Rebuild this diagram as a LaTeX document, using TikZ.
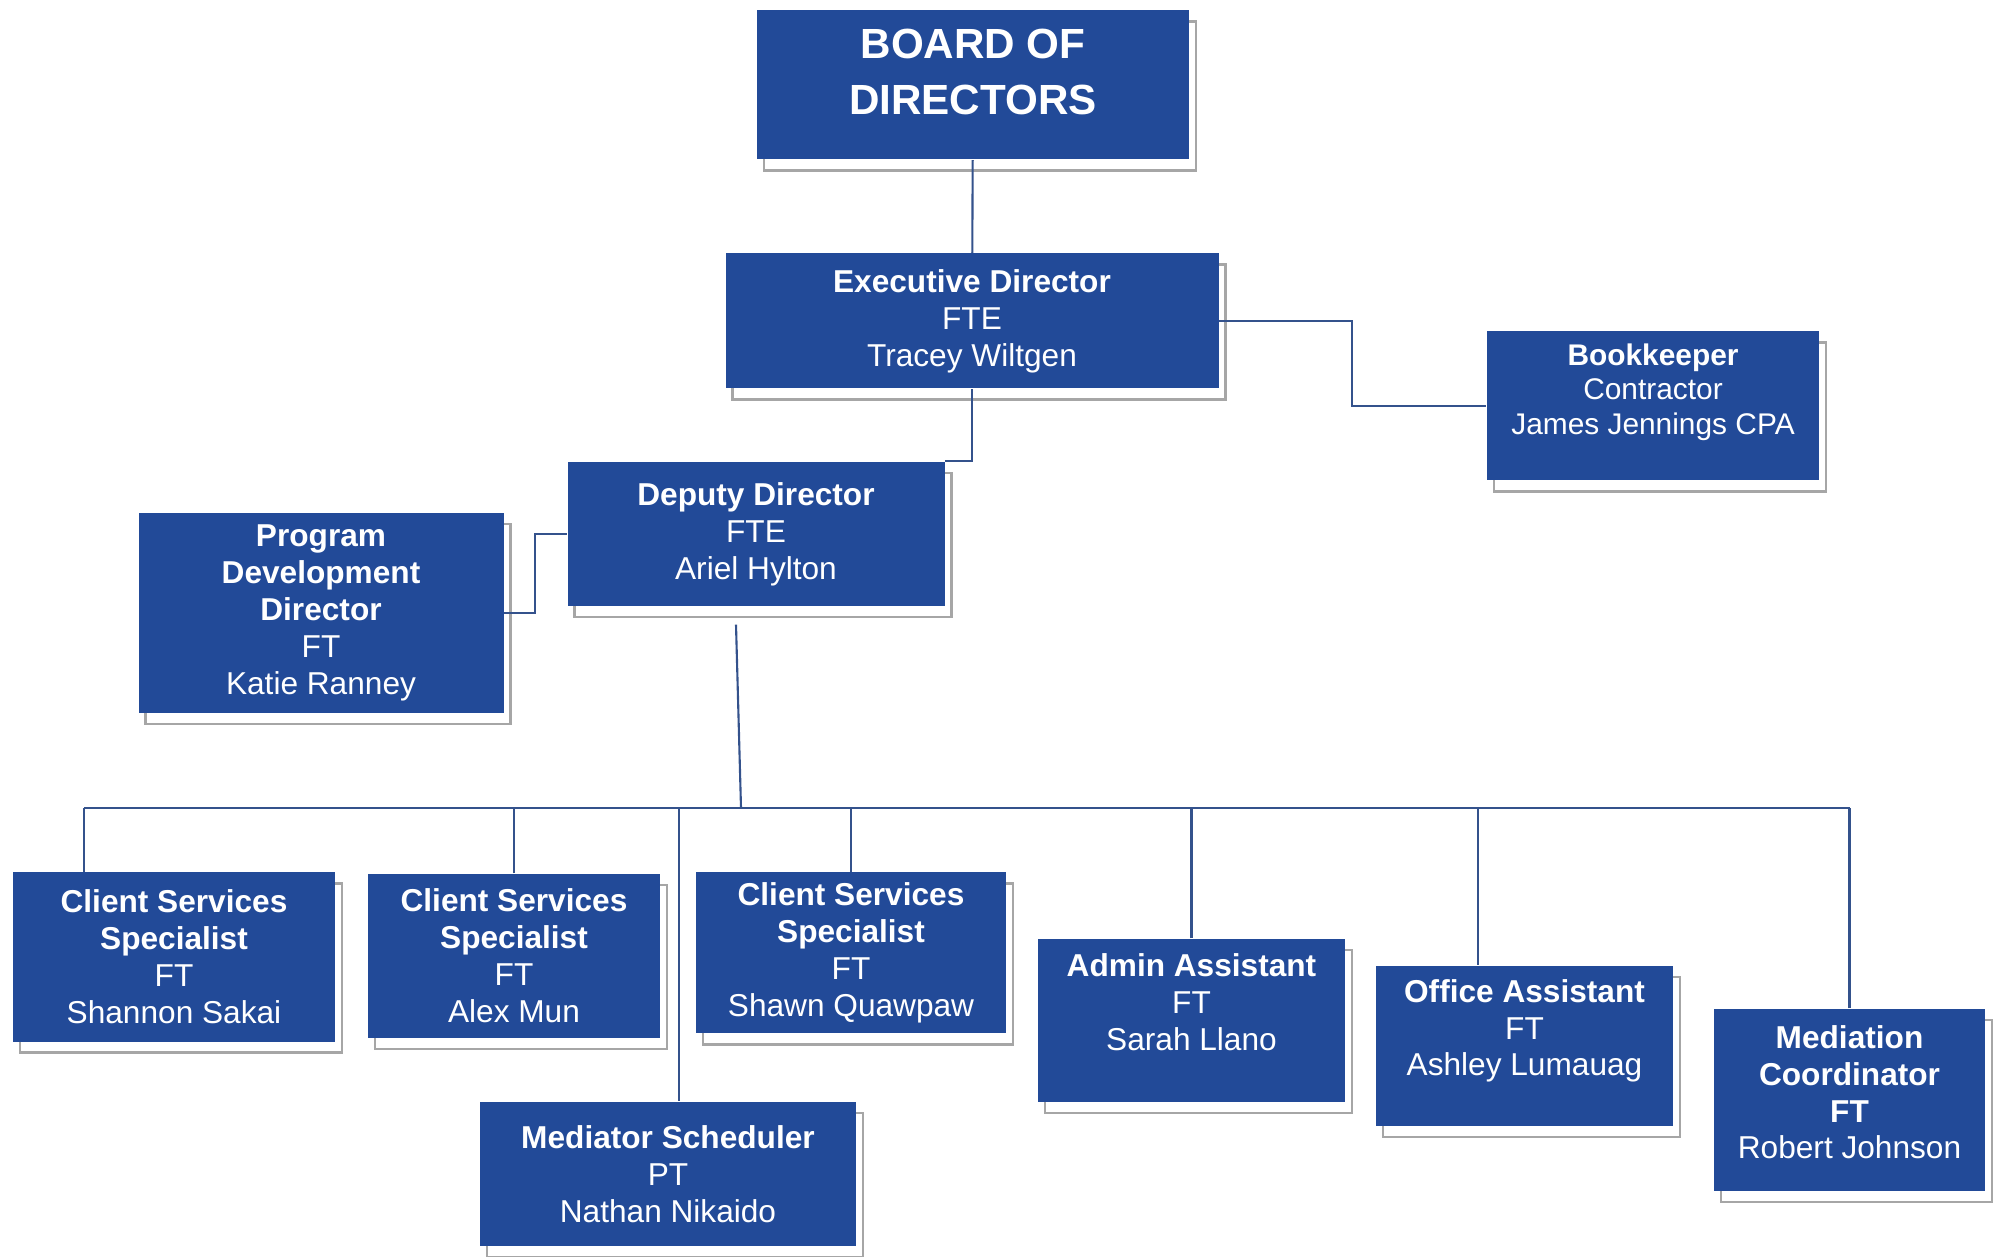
\documentclass[tikz,border=0pt]{standalone}
\usepackage{fontspec}
\setmainfont{Liberation Sans}
\usepackage{tikz}
\usetikzlibrary{shadows}
\usetikzlibrary{calc}
\definecolor{boxblue}{RGB}{34,74,152}
\definecolor{lineblue}{RGB}{52,82,140}
\tikzset{>=latex}
\tikzset{
	box/.style = {rectangle, fill = boxblue, text = white, align = center, inner sep = 1pt,
		general shadow = {fill = white, draw = gray!70, line width = 0.8pt, shadow xshift = 0.07cm, shadow yshift = -0.11cm}},
	link/.style = {lineblue, line width = 0.6pt}
}

\begin{document}
\begin{tikzpicture}[font = {\fontsize{9pt}{10.5pt}\selectfont}]
\useasboundingbox (0, 0) rectangle (19.98, -12.57);

\node[box, minimum width = 4.32cm, minimum height = 1.49cm, font = {\fontsize{12pt}{16pt}\selectfont\bfseries}] (BRD) at (9.73, -0.85) {BOARD OF \\ DIRECTORS \\[-8.6pt] \mbox{}};
\node[box, minimum width = 4.93cm, minimum height = 1.35cm] (EXE) at (9.72, -3.21) {\textbf{Executive Director} \\ FTE \\ Tracey Wiltgen};
\node[box, minimum width = 3.32cm, minimum height = 1.49cm, font = {\fontsize{8.5pt}{9.8pt}\selectfont}] (BKP) at (16.53, -4.06) {\textbf{Bookkeeper} \\ Contractor \\ James Jennings CPA \\ \mbox{}};
\node[box, minimum width = 3.77cm, minimum height = 1.44cm] (DEP) at (7.56, -5.34) {\textbf{Deputy Director} \\ FTE \\ Ariel Hylton};
\node[box, minimum width = 3.65cm, minimum height = 2.0cm] (PDD) at (3.21, -6.13) {\textbf{Program} \\ \textbf{Development} \\ \textbf{Director} \\ FT \\ Katie Ranney};

\node[box, minimum width = 3.22cm, minimum height = 1.69cm] (CSS1) at (1.74, -9.57) {\textbf{Client Services} \\ \textbf{Specialist} \\ FT \\ Shannon Sakai};
\node[box, minimum width = 2.92cm, minimum height = 1.64cm] (CSS2) at (5.14, -9.56) {\textbf{Client Services} \\ \textbf{Specialist} \\ FT \\ Alex Mun};
\node[box, minimum width = 3.10cm, minimum height = 1.61cm] (CSS3) at (8.51, -9.53) {\textbf{Client Services} \\ \textbf{Specialist} \\ FT \\ Shawn Quawpaw};
\node[box, minimum width = 3.76cm, minimum height = 1.44cm] (SCH) at (6.68, -11.74) {\textbf{Mediator Scheduler} \\ PT \\ Nathan Nikaido};
\node[box, minimum width = 3.07cm, minimum height = 1.63cm] (ADM) at (11.915, -10.205) {\textbf{Admin Assistant} \\ FT \\ Sarah Llano \\ \mbox{}};
\node[box, minimum width = 2.97cm, minimum height = 1.60cm] (OFF) at (15.245, -10.46) {\textbf{Office Assistant} \\ FT \\ Ashley Lumauag \\ \mbox{}};
\node[box, minimum width = 2.71cm, minimum height = 1.82cm] (MED) at (18.495, -11.0) {\textbf{Mediation} \\ \textbf{Coordinator} \\ \textbf{FT} \\ Robert Johnson \\[-6pt] \mbox{}};

\coordinate (BUS-L) at (0.84, -8.08);
\coordinate (BUS-R) at (18.50, -8.08);
\coordinate (BUS-Mid) at (7.41, -8.08);
\coordinate (BUS-SCH) at (6.79, -8.08);
\coordinate (BUS-OFF) at (14.78, -8.08);

\draw[link] (BRD) -- (EXE);

\draw[link] (EXE.east) -- ++(1.33, 0) |- (BKP.west);

\draw[link] (EXE.south) |- (DEP.north east);

\draw[link] (PDD.east) -- ++(0.31, 0) |- (DEP.west);

\draw[link] ([xshift = -0.2cm, yshift = -0.18cm]DEP.south) -- (BUS-Mid);

% staff bus
\draw[link] (BUS-L) -- (BUS-R);
\draw[link] (BUS-L) -- (BUS-L |- CSS1.north);
\draw[link] (CSS2.north) -- (CSS2.north |- BUS-L);
\draw[link] (CSS3.north) -- (CSS3.north |- BUS-L);
\draw[link] (BUS-SCH) -- (BUS-SCH |- SCH.north);
\draw[link] (ADM.north) -- (ADM.north |- BUS-L);
\draw[link] (BUS-OFF) -- (BUS-OFF |- OFF.north);
\draw[link] (MED.north) -- (MED.north |- BUS-L);
\end{tikzpicture}
\end{document}
